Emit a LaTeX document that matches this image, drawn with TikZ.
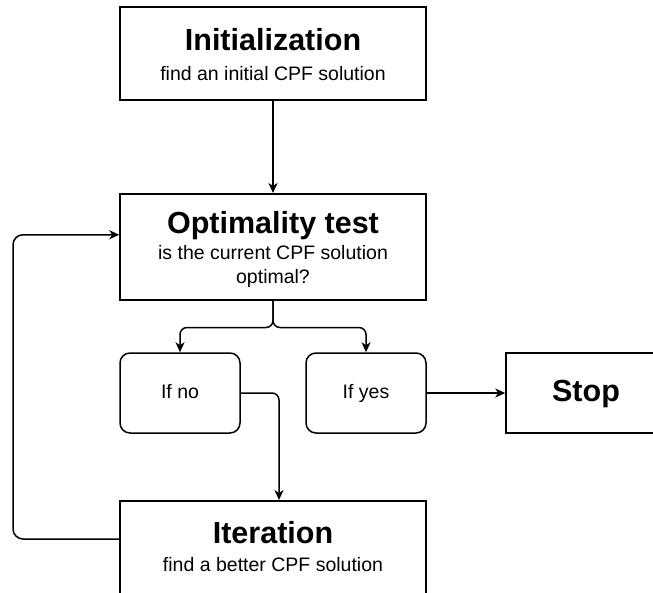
\documentclass[tikz,border=0pt]{standalone}
\usepackage{fontspec}
\setmainfont{Liberation Sans}
\usetikzlibrary{arrows.meta}
\newcommand\boxtitle{\bfseries\fontsize{30.5}{36}\selectfont}
\newcommand\boxsub{\fontsize{19.5}{24}\selectfont}
\tikzset{
  bigbox/.style={draw, line width=1.5pt, minimum width=306pt, inner sep=0pt},
  boxtext/.style={anchor=north, align=center, font=\boxsub, inner sep=0pt},
  choice/.style={draw, line width=1.5pt, rounded corners=10pt, minimum width=120pt, minimum height=80pt,
                 font=\boxsub, text height=14pt, text depth=3pt},
  flow/.style={line width=1.5pt, -{Stealth[length=10pt, width=9pt, inset=3pt]}},
}
\begin{document}
\begin{tikzpicture}[x=1pt, y=-1pt]
  \useasboundingbox (0,0) rectangle (653,592);
  \clip (0,0) rectangle (653,592);

  % main steps
  \node[bigbox, minimum height=93pt, anchor=north,
        label={[boxtext, yshift=-21.9pt]north:{\boxtitle Initialization}\\[6pt]find an initial CPF solution}]
    (init) at (273,6) {};
  \node[bigbox, minimum height=106pt, anchor=north,
        label={[boxtext, yshift=-17.8pt]north:{\boxtitle Optimality test}\\[2pt]is the current CPF solution\\optimal?}]
    (opt) at (273,193) {};
  \node[bigbox, minimum height=110pt, anchor=north,
        label={[boxtext, yshift=-21.5pt]north:{\boxtitle Iteration}\\[4pt]find a better CPF solution}]
    (iter) at (273,500) {};

  % outcomes of the test
  \node[choice] (ifno) at (180,393) {If no};
  \node[choice] (ifyes) at (366,393) {If yes};
  \node[draw, line width=1.5pt, minimum width=160pt, minimum height=80pt, font=\boxtitle,
        text height=22pt, text depth=6pt] (stop) at (586,393) {Stop};

  % connectors
  \draw[flow] (init) -- (opt);
  \draw[flow, rounded corners=7pt] (opt.south) -- ++(0,27) -| (ifno.north);
  \draw[flow, rounded corners=7pt] (opt.south) -- ++(0,27) -| (ifyes.north);
  \draw[flow] (ifyes) -- (stop);
  \draw[flow, rounded corners=7pt] (ifno.east) -| ([xshift=6pt]iter.north);

  % loop back from the iteration to the test
  \coordinate (iterout) at ([yshift=-39pt]iter.north west);
  \coordinate (optin) at ([yshift=12pt]opt.west);
  \coordinate (loopx) at (13,400);
  \draw[flow, rounded corners=10pt] (iterout) -| (loopx) |- (optin);
\end{tikzpicture}
\end{document}
